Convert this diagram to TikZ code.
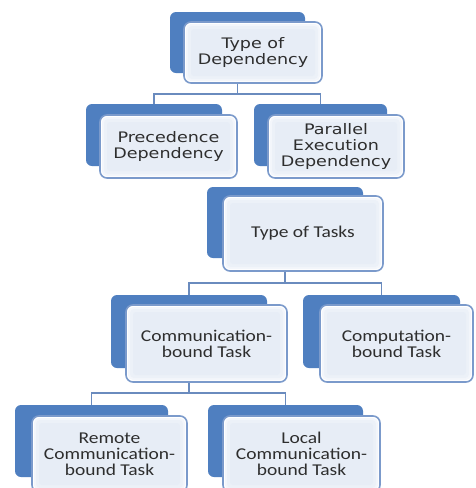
\documentclass[tikz,border=0pt]{standalone}
\usepackage{fontspec}
\newfontfamily\topfont[FakeStretch=1.21]{DejaVu Sans}
\newfontfamily\lowfont[FakeStretch=1.18]{Carlito}
\definecolor{backblue}{HTML}{4F7FC0}
\definecolor{frameblue}{HTML}{7B9ACB}
\definecolor{connblue}{HTML}{6A8BBE}
\definecolor{fillA}{HTML}{F3F6FB}
\definecolor{fillB}{HTML}{ECF1F8}
\definecolor{fillC}{HTML}{E7EDF6}
\definecolor{txt}{HTML}{2E2E2E}
\tikzset{
  backbox/.style={rectangle, rounded corners=6pt, fill=backblue, draw=none, inner sep=0pt},
  frontbox/.style={rectangle, rounded corners=7pt, fill=white, draw=frameblue, line width=1.6pt,
    inner sep=0pt, align=center, text=txt,
    path picture={
      \fill[fillA, rounded corners=5pt] ([xshift=2pt,yshift=-2pt]path picture bounding box.north west) rectangle ([xshift=-2pt,yshift=2pt]path picture bounding box.south east);
      \fill[fillB, rounded corners=4pt] ([xshift=4pt,yshift=-4pt]path picture bounding box.north west) rectangle ([xshift=-4pt,yshift=4pt]path picture bounding box.south east);
      \fill[fillC, rounded corners=3pt] ([xshift=7pt,yshift=-7pt]path picture bounding box.north west) rectangle ([xshift=-7pt,yshift=7pt]path picture bounding box.south east);
    }},
  topf/.style={font=\topfont\fontsize{14.5}{16}\selectfont},
  lowf/.style={font=\lowfont\fontsize{16.5}{16}\selectfont},
  conn/.style={draw=connblue, line width=1.5pt}
}
\begin{document}
\begin{tikzpicture}[x=1pt,y=-1pt]
\useasboundingbox (0,0) rectangle (476,488);
\clip (0,0) rectangle (476,488);
\fill[white] (0,0) rectangle (476,488);

% coordinates for connector bars
\coordinate (bar1) at (0,94);
\coordinate (bar2) at (0,283);
\coordinate (bar3) at (0,393);

% Type of Dependency
\node[backbox, minimum width=135pt, minimum height=61pt] (b1) at (237.5,42.5) {};
\node[frontbox, topf, minimum width=138pt, minimum height=61pt] (f1) at (253,52.5) {Type of\\Dependency};

% Precedence Dependency
\node[backbox, minimum width=136pt, minimum height=62pt] (b2) at (154,135) {};
\node[frontbox, topf, minimum width=137pt, minimum height=63pt] (f2) at (168.5,146.5) {Precedence\\Dependency};

% Parallel Execution Dependency
\node[backbox, minimum width=133pt, minimum height=62pt] (b3) at (320.5,135) {};
\node[frontbox, topf, minimum width=136pt, minimum height=63pt] (f3) at (336,146.5) {Parallel\\Execution\\Dependency};

% Type of Tasks
\node[backbox, minimum width=156pt, minimum height=71pt] (b4) at (285,222.5) {};
\node[frontbox, lowf, minimum width=160pt, minimum height=75pt] (f4) at (303,233.5) {Type of Tasks};

% Communication-bound Task
\node[backbox, minimum width=156pt, minimum height=73pt] (b5) at (189,331.5) {};
\node[frontbox, lowf, minimum width=161pt, minimum height=77pt] (f5) at (206.5,343.5) {Communication-\\bound Task};

% Computation-bound Task
\node[backbox, minimum width=157pt, minimum height=73pt] (b6) at (381.5,331.5) {};
\node[frontbox, lowf, minimum width=153pt, minimum height=77pt] (f6) at (396.5,343.5) {Computation-\\bound Task};

% Remote Communication-bound Task
\node[backbox, minimum width=153pt, minimum height=72pt] (b7) at (91.5,441) {};
\node[frontbox, lowf, minimum width=155pt, minimum height=76pt] (f7) at (109.5,454) {Remote\\Communication-\\bound Task};

% Local Communication-bound Task
\node[backbox, minimum width=155pt, minimum height=72pt] (b8) at (285.5,441) {};
\node[frontbox, lowf, minimum width=157pt, minimum height=76pt] (f8) at (301.5,454) {Local\\Communication-\\bound Task};

% connectors
\draw[conn] (b1.south |- f1.south) -- (b1.south |- bar1);
\draw[conn] (b2.north) |- (bar1 -| b1.south) -| (b3.north);
\draw[conn] (b4.south |- f4.south) -- (b4.south |- bar2);
\draw[conn] (b5.north) |- (bar2 -| b4.south) -| (b6.north);
\draw[conn] (b5.south |- f5.south) -- (b5.south |- bar3);
\draw[conn] (b7.north) |- (bar3 -| b5.south) -| (b8.north);
\end{tikzpicture}
\end{document}
